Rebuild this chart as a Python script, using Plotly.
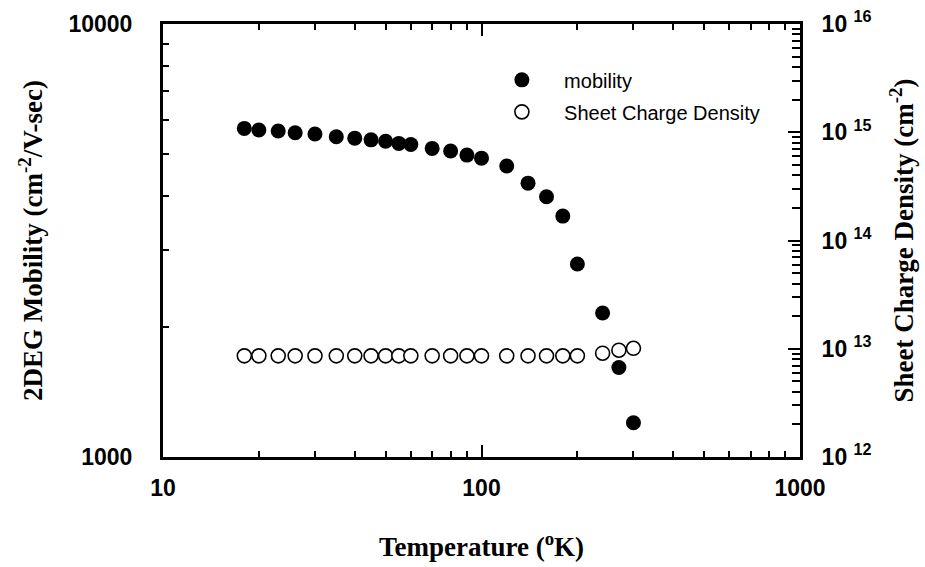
import plotly.graph_objects as go

# ---- data ----
temperature = [18, 20, 23, 26, 30, 35, 40, 45, 50, 55, 60, 70, 80, 90, 100,
               120, 140, 160, 180, 200, 240, 270, 300]
mobility = [5740, 5690, 5660, 5610, 5570, 5490, 5450, 5400, 5360, 5300, 5270,
            5160, 5090, 4980, 4900, 4700, 4290, 3990, 3600, 2790, 2150, 1610, 1200]
sheet_density = [8.6e12, 8.6e12, 8.6e12, 8.6e12, 8.6e12, 8.6e12, 8.6e12, 8.6e12,
                 8.6e12, 8.6e12, 8.6e12, 8.6e12, 8.6e12, 8.6e12, 8.6e12, 8.6e12,
                 8.6e12, 8.6e12, 8.6e12, 8.6e12, 9.1e12, 9.7e12, 1.01e13]

x_tickvals = [10, 100, 1000]
x_ticktext = ["10", "100", "1000"]
y1_tickvals = [1000, 10000]
y1_ticktext = ["1000", "10000"]
y2_tickvals = [1e12, 1e13, 1e14, 1e15, 1e16]
y2_ticktext = ["10 <sup>12</sup>", "10 <sup>13</sup>", "10 <sup>14</sup>",
               "10 <sup>15</sup>", "10 <sup>16</sup>"]

def minor_vals(lo, hi):
    return [k * 10 ** e for e in range(lo, hi) for k in range(2, 10)]

SANS = "Liberation Sans, Arial, sans-serif"
SERIF = "Liberation Serif, Times New Roman, serif"
tickfont = dict(family=SANS, size=23, color="black", weight="bold")
titlefont = dict(family=SERIF, size=27, color="black", weight="bold")

fig = go.Figure()
fig.add_trace(go.Scatter(
    x=temperature, y=mobility, mode="markers", name="    mobility",
    legendgroup="a",
    marker=dict(symbol="circle", size=15, color="black",
                line=dict(color="black", width=0)),
))
fig.add_trace(go.Scatter(
    x=temperature, y=sheet_density, mode="markers", name="    Sheet Charge Density",
    legendgroup="b", yaxis="y2",
    marker=dict(symbol="circle", size=14, color="white",
                line=dict(color="black", width=1.6)),
))

fig.update_layout(
    width=925, height=567,
    margin=dict(l=163, r=125, t=24, b=110, autoexpand=False),
    paper_bgcolor="white", plot_bgcolor="white",
    showlegend=True,
    legend=dict(x=0.532, y=0.916, xanchor="left", yanchor="top",
                font=dict(family=SANS, size=20, color="black"),
                bgcolor="rgba(0,0,0,0)", tracegroupgap=3),
    xaxis=dict(
        type="log", range=[1, 3], automargin=False,
        tickvals=x_tickvals, ticktext=x_ticktext, tickfont=tickfont,
        ticks="inside", ticklen=12, tickwidth=2, tickcolor="black",
        minor=dict(tickvals=minor_vals(1, 3), ticks="inside", ticklen=6,
                   tickwidth=1.5, tickcolor="black", showgrid=False),
        showline=True, linewidth=3, linecolor="black", mirror="ticks",
        showgrid=False, zeroline=False, ticklabelstandoff=8,
        title=dict(text="Temperature (<sup>o</sup>K)", font=titlefont, standoff=38),
    ),
    yaxis=dict(
        type="log", range=[3, 4], automargin=False,
        tickvals=y1_tickvals, ticktext=y1_ticktext, tickfont=tickfont,
        ticks="inside", ticklen=12, tickwidth=2, tickcolor="black",
        minor=dict(tickvals=minor_vals(3, 4), ticks="inside", ticklen=6,
                   tickwidth=1.5, tickcolor="black", showgrid=False),
        showline=True, linewidth=3, linecolor="black",
        showgrid=False, zeroline=False, ticklabelstandoff=23,
        title=dict(text="2DEG Mobility (cm<sup>-2</sup>/V-sec)", font=titlefont,
                   standoff=18),
    ),
    yaxis2=dict(
        type="log", range=[12, 16], overlaying="y", side="right", automargin=False,
        tickvals=y2_tickvals, ticktext=y2_ticktext, tickfont=tickfont,
        ticks="inside", ticklen=12, tickwidth=2, tickcolor="black",
        minor=dict(tickvals=minor_vals(12, 16), ticks="inside", ticklen=8,
                   tickwidth=1.5, tickcolor="black", showgrid=False),
        showline=True, linewidth=3, linecolor="black",
        showgrid=False, zeroline=False, ticklabelstandoff=14,
        title=dict(text="Sheet Charge Density (cm<sup>-2</sup>)", font=titlefont,
                   standoff=24),
    ),
)

fig.write_html("out.html")
